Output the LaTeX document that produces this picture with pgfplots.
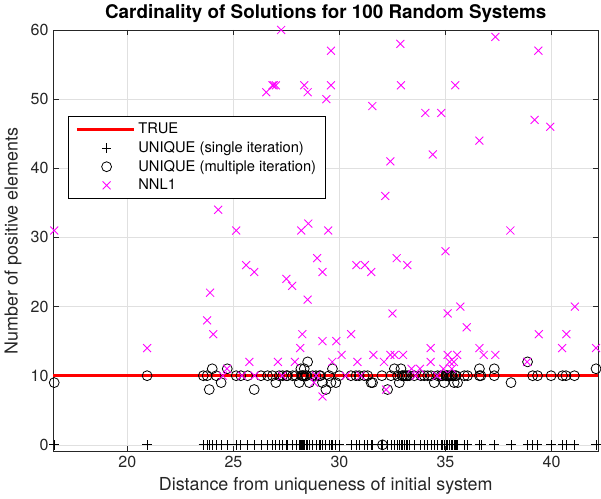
\documentclass[border=0pt]{standalone}
\usepackage{fontspec}
\setmainfont{TeX Gyre Heros}
\usepackage{pgfplots}
\pgfplotsset{compat=1.18}
\definecolor{axgray}{rgb}{0.15,0.15,0.15}
\definecolor{gridgray}{rgb}{0.88,0.88,0.88}
\definecolor{mag}{rgb}{1,0,1}
\pgfplotsset{
  longleg/.style={legend image code/.code={\draw[##1] (0cm,0cm) -- (1.5cm,0cm);}},
  markleg/.style={legend image code/.code={\draw[mark repeat=1,mark phase=1,##1] plot coordinates {(0.78cm,0cm)};}},
}
\begin{document}
\begin{tikzpicture}
\begin{axis}[
  scale only axis,
  width=408pt, height=315.75pt,
  xmin=16.5, xmax=42.2, ymin=-1, ymax=60,
  xtick={20,25,30,35,40}, ytick={0,10,20,30,40,50,60},
  tick align=inside, tick pos=both,
  major tick length=4pt,
  grid=major,
  major grid style={gridgray, line width=0.5pt},
  axis line style={axgray, line width=0.6pt},
  every tick/.style={axgray, line width=0.6pt},
  tick label style={font=\fontsize{12}{14}\selectfont, text=axgray},
  /pgf/number format/assume math mode=true,
  title={\fontsize{14.1}{16}\selectfont\bfseries Cardinality of Solutions for 100 Random Systems},
  title style={yshift=-4pt},
  xlabel={\fontsize{13.4}{16}\selectfont Distance from uniqueness of initial system},
  ylabel={\fontsize{13.4}{16}\selectfont Number of positive elements},
  xlabel style={text=axgray},
  ylabel style={text=axgray},
  legend style={at={(0.0276,0.796)}, anchor=north west, draw=black, line width=0.5pt,
    fill=white, font=\fontsize{11}{13}\selectfont, row sep=0.3pt, inner xsep=5pt, inner ysep=3pt},
  legend cell align=left,
]
\addplot[red, line width=2.6pt, longleg] coordinates {(16.5,10) (42.2,10)};
\addlegendentry{TRUE}
\addplot[only marks, mark=+, mark size=3.6pt, black, line width=0.6pt, markleg] table[row sep=\\] {
x y\\
16.55 0\\ 20.93 0\\ 23.58 0\\ 23.76 0\\ 23.86 0\\ 24.0 0\\ 24.19 0\\ 24.42 0\\ 24.71 0\\ 25.13 0\\
25.35 0\\ 25.67 0\\ 25.98 0\\ 26.3 0\\ 26.61 0\\ 26.84 0\\ 27.0 0\\ 27.16 0\\ 27.32 0\\ 27.55 0\\
27.79 0\\ 27.95 0\\ 28.1 0\\ 28.18 0\\ 28.26 0\\ 28.34 0\\ 28.42 0\\ 28.5 0\\ 28.58 0\\ 28.73 0\\
28.89 0\\ 29.05 0\\ 29.2 0\\ 29.36 0\\ 29.52 0\\ 29.6 0\\ 29.67 0\\ 29.83 0\\ 29.99 0\\ 30.54 0\\
30.78 0\\ 30.93 0\\ 31.17 0\\ 31.33 0\\ 31.49 0\\ 31.56 0\\ 32.03 0\\ 32.27 0\\ 32.43 0\\ 32.59 0\\
32.74 0\\ 32.82 0\\ 32.9 0\\ 32.98 0\\ 33.14 0\\ 33.29 0\\ 33.53 0\\ 33.84 0\\ 34.0 0\\ 34.16 0\\
34.32 0\\ 34.47 0\\ 34.63 0\\ 34.79 0\\ 34.86 0\\ 34.94 0\\ 35.02 0\\ 35.1 0\\ 35.18 0\\ 35.26 0\\
35.33 0\\ 35.41 0\\ 35.5 0\\ 35.57 0\\ 35.89 0\\ 36.04 0\\ 36.6 0\\ 36.67 0\\ 37.3 0\\ 38.09 0\\
38.87 0\\ 39.11 0\\ 39.34 0\\ 39.98 0\\ 40.52 0\\ 40.68 0\\ 41.08 0\\ 42.1 0\\ 28.3 0\\ 28.45 0\\
29.1 0\\ 32.0 0\\ 32.95 0\\ 33.2 0\\ 35.05 0\\ 35.3 0\\ 35.45 0\\ 28.22 0\\ 33.05 0\\ 27.5 0\\
};
\addlegendentry{UNIQUE (single iteration)}
\addplot[only marks, mark=o, mark size=3.7pt, black, line width=0.6pt, markleg] table[row sep=\\] {
x y\\
16.55 9\\ 20.93 10\\ 23.58 10\\ 23.76 10\\ 23.86 8\\ 24.0 11\\ 24.19 10\\ 24.42 9\\ 24.71 11\\ 25.13 10\\
25.35 10\\ 25.67 10\\ 25.98 8\\ 26.3 10\\ 26.61 10\\ 26.84 10\\ 27.0 9\\ 27.16 10\\ 27.32 10\\ 27.55 10\\
27.79 10\\ 27.95 10\\ 28.1 9\\ 28.18 11\\ 28.26 10\\ 28.34 11\\ 28.42 10\\ 28.5 12\\ 28.58 9\\ 28.73 10\\
28.89 10\\ 29.05 10\\ 29.2 9\\ 29.36 8\\ 29.52 10\\ 29.6 9\\ 29.67 11\\ 29.83 9\\ 29.99 10\\ 30.54 10\\
30.78 10\\ 30.93 10\\ 31.17 10\\ 31.33 10\\ 31.49 9\\ 31.56 9\\ 32.03 0\\ 32.27 8\\ 32.43 10\\ 32.59 11\\
32.74 10\\ 32.82 9\\ 32.9 11\\ 32.98 10\\ 33.14 10\\ 33.29 10\\ 33.53 10\\ 33.84 10\\ 34.0 10\\ 34.16 10\\
34.32 10\\ 34.47 9\\ 34.63 10\\ 34.79 10\\ 34.86 10\\ 34.94 9\\ 35.02 10\\ 35.1 10\\ 35.18 10\\ 35.26 10\\
35.33 10\\ 35.41 9\\ 35.5 10\\ 35.57 9\\ 35.89 10\\ 36.04 10\\ 36.6 11\\ 36.67 10\\ 37.3 11\\ 38.09 9\\
38.87 12\\ 39.11 10\\ 39.34 10\\ 39.98 10\\ 40.52 10\\ 40.68 10\\ 41.08 10\\ 42.1 11\\ 28.3 10\\ 28.45 10\\
29.1 10\\ 32.0 10\\ 32.95 10\\ 33.2 10\\ 35.05 10\\ 35.3 10\\ 35.45 10\\ 28.22 10\\ 33.05 10\\ 27.5 10\\
37.3 10\\ 36.6 10\\
};
\addlegendentry{UNIQUE (multiple iteration)}
\addplot[only marks, mark=x, mark size=4.2pt, mag, line width=0.65pt, markleg] table[row sep=\\] {
x y\\
16.55 31\\ 20.93 14\\ 23.76 18\\ 23.9 22\\ 24.05 16\\ 24.28 34\\ 24.7 11\\ 25.13 31\\ 25.6 26\\ 25.98 25\\
25.75 12\\ 26.55 51\\ 26.84 52\\ 27.0 52\\ 27.1 12\\ 27.25 60\\ 27.5 24\\ 27.77 23\\ 27.9 12\\ 28.15 14\\
28.2 31\\ 28.25 16\\ 28.34 52\\ 28.5 51\\ 28.5 21\\ 28.53 32\\ 28.8 9\\ 28.95 27\\ 29.2 25\\ 29.2 15\\
29.2 7\\ 29.38 50\\ 29.47 31\\ 29.6 57\\ 29.6 52\\ 29.66 12\\ 29.85 15\\ 30.1 13\\ 30.55 16\\ 30.8 26\\
30.85 12\\ 31.2 26\\ 31.5 25\\ 31.55 49\\ 31.6 13\\ 32.1 12\\ 32.16 36\\ 32.2 8\\ 32.4 41\\ 32.4 13\\
32.5 19\\ 32.6 13\\ 32.7 27\\ 32.87 58\\ 32.9 52\\ 33.0 13\\ 33.2 26\\ 33.4 11\\ 33.8 11\\ 34.05 48\\
34.3 14\\ 34.3 12\\ 34.4 42\\ 34.8 48\\ 35.0 28\\ 35.1 19\\ 35.1 13\\ 35.2 12\\ 35.46 52\\ 35.55 13\\
35.7 20\\ 36.0 17\\ 36.6 44\\ 36.6 14\\ 36.8 13\\ 37.35 59\\ 37.35 13\\ 38.06 31\\ 38.85 12\\ 39.2 47\\
39.38 57\\ 39.4 16\\ 39.94 46\\ 40.5 14\\ 40.7 16\\ 41.1 20\\ 42.1 14\\ 35.3 11\\ 35.4 12\\ 34.9 11\\
26.9 52\\ 28.9 10\\ 30.3 10\\ 31.0 10\\ 33.6 10\\ 34.6 10\\ 27.3 10\\ 26.0 10\\ 25.4 10\\ 24.5 10\\
};
\addlegendentry{NNL1}
\end{axis}
\end{tikzpicture}
\end{document}
